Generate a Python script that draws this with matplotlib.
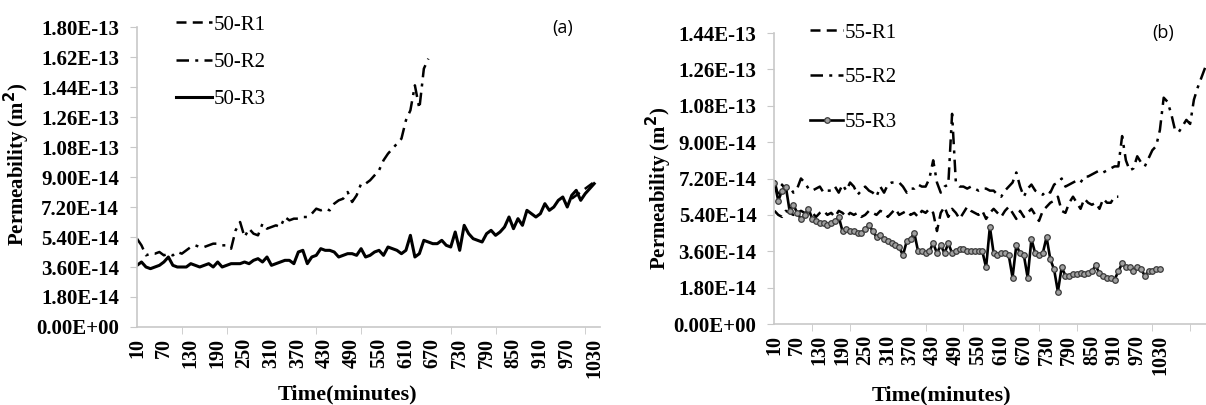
import matplotlib.pyplot as plt
import numpy as np
from matplotlib.ticker import FuncFormatter

plt.rcParams["font.family"] = ["Liberation Serif", "DejaVu Serif"]

# permeability in units of 1e-14 m2, one reading every 10 minutes
time_labels = [10, 70, 130, 190, 250, 310, 370, 430, 490, 550,
               610, 670, 730, 790, 850, 910, 970, 1030]

a_r1_start = 980
a_r1 = [7.7, 7.9, 8.1, 8.3, 8.5, 8.7]
a_r2 = [5.3, 4.9, 4.3, 4.4, 4.4, 4.5, 4.3, 4.4, 4.3, 4.5,
        4.4, 4.6, 4.8, 4.9, 4.8, 4.8, 4.9, 5.0, 5.0, 4.9,
        4.9, 4.7, 5.8, 6.3, 5.4, 5.9, 5.6, 5.5, 6.2, 5.9,
        6.0, 6.1, 6.0, 6.6, 6.4, 6.5, 6.5, 6.6, 6.6, 6.8,
        7.1, 7.0, 7.1, 7.0, 7.4, 7.6, 7.7, 8.1, 7.5, 7.9,
        8.6, 8.6, 8.8, 9.1, 9.4, 10.0, 10.4, 10.7, 11.0, 11.3,
        12.4, 13.0, 14.5, 13.1, 15.5, 16.1]
a_r3 = [3.7, 3.9, 3.6, 3.5, 3.6, 3.7, 3.9, 4.2, 3.7, 3.6,
        3.6, 3.6, 3.8, 3.7, 3.6, 3.7, 3.8, 3.6, 3.9, 3.6,
        3.7, 3.8, 3.8, 3.8, 3.9, 3.8, 4.0, 4.1, 3.9, 4.2,
        3.7, 3.8, 3.9, 4.0, 4.0, 3.8, 4.5, 4.6, 3.8, 4.2,
        4.3, 4.7, 4.6, 4.6, 4.5, 4.2, 4.3, 4.4, 4.4, 4.3,
        4.7, 4.2, 4.3, 4.5, 4.6, 4.3, 4.8, 4.7, 4.6, 4.4,
        4.6, 5.5, 4.2, 4.4, 5.2, 5.1, 5.0, 5.0, 5.2, 4.9,
        4.8, 5.7, 4.6, 6.1, 5.6, 5.3, 5.2, 5.1, 5.6, 5.8,
        5.5, 5.7, 6.0, 6.6, 5.9, 6.5, 6.1, 7.0, 6.8, 6.6,
        6.8, 7.4, 7.0, 7.2, 7.6, 7.8, 7.2, 7.9, 8.2, 7.6,
        8.0, 8.3, 8.6]

b_r1 = [5.6, 5.4, 5.3, 5.6, 5.5, 5.4, 5.5, 5.6, 5.5, 5.4,
        5.5, 5.3, 5.5, 5.6, 5.4, 5.5, 5.3, 5.6, 5.5, 5.3,
        5.5, 5.4, 5.5, 5.3, 5.4, 5.6, 5.5, 5.4, 5.6, 5.5,
        5.3, 5.5, 5.7, 5.4, 5.5, 5.6, 5.4, 5.5, 5.3, 5.6,
        5.5, 5.7, 5.5, 4.6, 5.5, 5.8, 5.3, 5.7, 5.5, 5.2,
        5.5, 5.8, 5.6, 5.5, 5.4, 5.6, 5.2, 5.5, 5.7, 5.5,
        5.3, 5.6, 5.8, 5.5, 5.2, 5.6, 5.3, 5.5, 5.7, 5.4,
        5.1, 5.6, 5.8, 6.0, 6.1, 6.3, 5.6, 5.5, 6.0, 6.3,
        6.0, 5.7, 6.2, 6.0, 5.9, 6.0, 5.7, 6.2, 6.0, 6.0,
        6.3, 6.3]
b_r2 = [7.1, 6.3, 6.9, 6.6, 6.8, 6.5, 6.7, 7.2, 7.0, 6.7,
        6.6, 6.7, 6.8, 6.5, 6.6, 6.6, 6.8, 6.5, 6.9, 6.6,
        7.0, 6.8, 6.4, 6.6, 6.8, 6.6, 6.5, 6.3, 6.8, 6.5,
        6.9, 7.0, 7.0, 7.0, 6.8, 6.5, 6.7, 6.7, 6.9, 6.8,
        6.8, 7.2, 8.1, 7.0, 6.5, 6.8, 6.9, 10.4, 7.0, 6.8,
        6.8, 6.7, 6.8, 6.7, 6.6, 6.7, 6.7, 6.6, 6.6, 6.4,
        6.3, 6.6, 6.8, 7.0, 7.5, 6.8, 6.3, 6.7, 6.9, 6.6,
        6.5, 6.4, 6.6, 6.5, 6.9, 7.0, 7.2, 6.8, 6.9, 7.0,
        7.1, 7.0, 7.3, 7.3, 7.4, 7.5, 7.6, 7.5, 7.6, 7.7,
        7.8, 7.8, 9.3, 8.1, 7.6, 7.7, 8.3, 8.0, 7.8, 8.2,
        8.6, 8.8, 9.6, 11.2, 11.0, 10.4, 9.6, 9.5, 9.8, 10.1,
        9.9, 11.1, 11.7, 12.2, 12.7]
b_r3 = [7.0, 6.1, 6.6, 6.8, 5.6, 5.9, 5.5, 5.2, 5.4, 5.7,
        5.2, 5.1, 5.0, 5.0, 4.9, 5.0, 5.1, 5.3, 4.6, 4.7,
        4.6, 4.6, 4.5, 4.5, 4.7, 4.9, 4.6, 4.3, 4.4, 4.2,
        4.1, 4.0, 3.9, 3.8, 3.4, 4.1, 4.2, 4.5, 3.6, 3.6,
        3.5, 3.6, 4.0, 3.5, 3.9, 3.5, 4.0, 3.5, 3.6, 3.7,
        3.7, 3.6, 3.6, 3.6, 3.6, 3.6, 2.8, 4.8, 3.5, 3.4,
        3.5, 3.5, 3.4, 2.3, 3.9, 3.5, 3.4, 2.3, 4.2, 3.5,
        3.4, 3.5, 4.3, 3.2, 2.7, 1.6, 2.8, 2.4, 2.4, 2.45,
        2.45, 2.5, 2.45, 2.5, 2.6, 2.9, 2.5, 2.4, 2.3, 2.3,
        2.2, 2.6, 3.0, 2.8, 2.8, 2.6, 2.8, 2.7, 2.4, 2.6,
        2.6, 2.7, 2.7]


def times(vals, start=10):
    return start + 10 * np.arange(len(vals))


def perm(vals):
    return np.array(vals) * 1e-14


fig = plt.figure(figsize=(12.06, 4.05), dpi=100)
ax_a = fig.add_axes([0.1136, 0.1926, 0.3839, 0.7407])
ax_b = fig.add_axes([0.6422, 0.2, 0.3578, 0.7185])

dash1 = (0, (4, 2.5))
dash2 = (0, (5, 2.5, 1.2, 2.5))
grey = "#c8c8c8"
fmt = FuncFormatter(lambda v, _: f"{v:.2E}")

ax_a.plot(times(a_r1, a_r1_start), perm(a_r1), color="black", lw=1.8,
          linestyle=dash1, label="50-R1")
ax_a.plot(times(a_r2), perm(a_r2), color="black", lw=1.8,
          linestyle=dash2, label="50-R2")
ax_a.plot(times(a_r3), perm(a_r3), color="black", lw=2.2, label="50-R3")

ax_b.plot(times(b_r1), perm(b_r1), color="black", lw=1.8,
          linestyle=dash1, label="55-R1")
ax_b.plot(times(b_r2), perm(b_r2), color="black", lw=1.8,
          linestyle=dash2, label="55-R2")
ax_b.plot(times(b_r3), perm(b_r3), color="black", lw=1.9, marker="o",
          markersize=4, markerfacecolor="#a0a0a0", markeredgecolor="#3a3a3a",
          markeredgewidth=0.9, label="55-R3")

for ax, top, right in [(ax_a, 1.8e-13, 1043), (ax_b, 1.44e-13, 1152)]:
    ax.set_xlim(10, right)
    ax.set_ylim(0, top)
    ax.set_yticks(np.arange(0, top + 1e-15, 1.8e-14))
    ax.yaxis.set_major_formatter(fmt)
    ax.set_xticks(time_labels)
    ax.set_xticklabels([str(t) for t in time_labels], rotation=90)
    ax.set_xticks(np.arange(10, right, 100), minor=True)
    ax.tick_params(axis="x", which="major", length=0, pad=8)
    ax.tick_params(axis="x", which="minor", length=5, color=grey)
    ax.tick_params(axis="y", length=5, color=grey, pad=8)
    for lab in ax.get_yticklabels():
        lab.set_fontweight("bold")
        lab.set_fontsize(15)
    for lab in ax.get_xticklabels():
        lab.set_fontweight("bold")
        lab.set_fontsize(14.5)
    for s in ["top", "right"]:
        ax.spines[s].set_visible(False)
    for s in ["left", "bottom"]:
        ax.spines[s].set_color(grey)
        ax.spines[s].set_linewidth(1.2)
    ax.patch.set_alpha(0)

ax_a.legend(loc="upper left", bbox_to_anchor=(0.062, 1.075), frameon=False,
            fontsize=15, handlelength=1.7, handletextpad=0.1, labelspacing=0.85,
            borderpad=0)
ax_b.legend(loc="upper left", bbox_to_anchor=(0.058, 1.07), frameon=False,
            fontsize=15, handlelength=1.6, handletextpad=0.05, labelspacing=1.2,
            borderpad=0)

fig.text(563 / 1206, 1 - 28 / 405, "(a)", family="Open Sans", fontsize=13,
         ha="center", va="center")
fig.text(1163 / 1206, 1 - 33 / 405, "(b)", family="Open Sans", fontsize=13,
         ha="center", va="center")

fig.text(17 / 1206, 1 - 164 / 405, "Permeability (m$^\\mathbf{2}$)",
         rotation=90, fontweight="bold", fontsize=15, ha="center", va="center")
fig.text(659 / 1206, 1 - 188 / 405, "Permeability (m$^\\mathbf{2}$)",
         rotation=90, fontweight="bold", fontsize=15, ha="center", va="center")
fig.text(347 / 1206, 1 - 394 / 405, "Time(minutes)", fontweight="bold",
         fontsize=16, ha="center", va="center")
fig.text(942 / 1206, 1 - 395 / 405, "Time(minutes)", fontweight="bold",
         fontsize=16, ha="center", va="center")

fig.savefig("out.png", dpi=100)
